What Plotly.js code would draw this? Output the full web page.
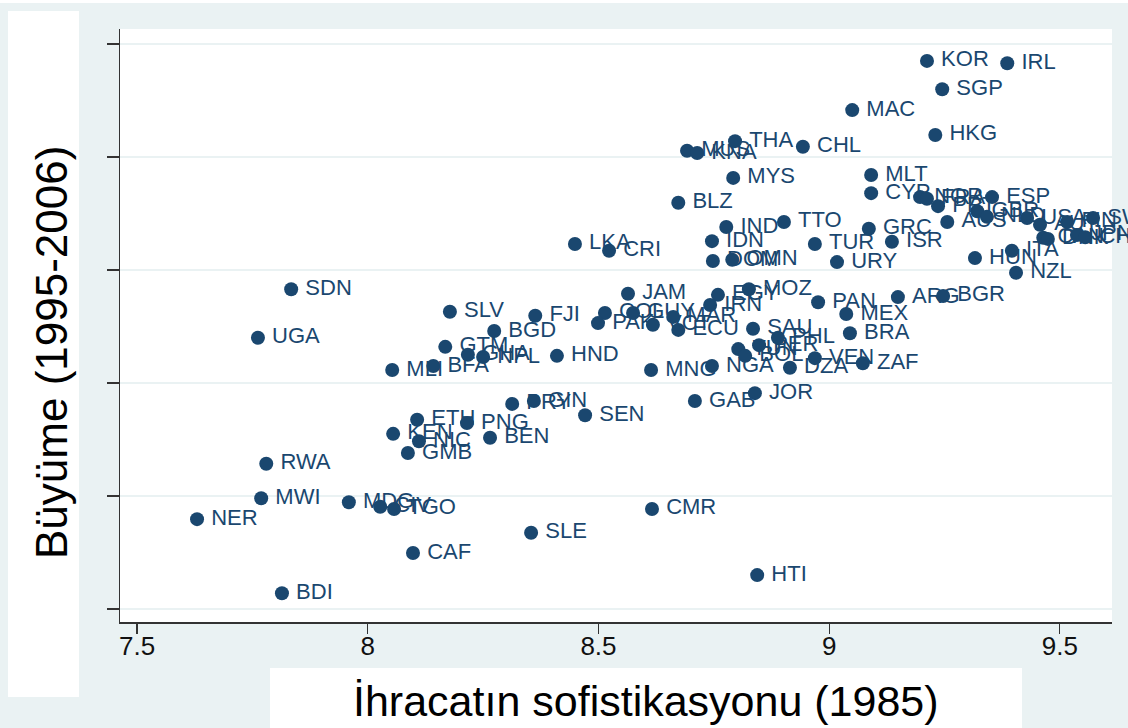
<!DOCTYPE html>
<html>
<head>
<meta charset="utf-8">
<script src="https://cdn.plot.ly/plotly-3.0.1.min.js"></script>
<style>html,body{margin:0;padding:0;background:#EAF2F3;}#chart{width:1128px;height:728px;}</style>
</head>
<body>
<div id="chart"></div>
<script>
// Country codes
const countries = [
 "KOR","IRL","SGP","MAC","HKG","THA","CHL","MUS","KNA","MYS",
 "MLT","CYP","BLZ","NOR","FRA","PRT","ESP","GBR","NLD","AUS",
 "USA","AUT","FIN","SWE","CAN","DNK","JPN","CHE","ITA","HUN",
 "NZL","ISR","GRC","TUR","URY","TTO","IND","IDN","DOM","OMN",
 "LKA","CRI","SDN","UGA","SLV","FJI","BGD","GTM","GHA","NPL",
 "BFA","MLI","HND","JAM","EGY","IRN","MOZ","PAN","ARG","BGR",
 "MEX","COL","GUY","PAK","VCT","MAR","ECU","SAU","PHL","PER",
 "TUN","BOL","BRA","VEN","ZAF","DZA","NGA","MNG","GAB","JOR",
 "PRY","GIN","SEN","ETH","PNG","KEN","NIC","BEN","GMB","RWA",
 "MWI","MDG","CIV","TGO","NER","CMR","SLE","CAF","HTI","BDI"
];
// Export sophistication (1985), log EXPY
const expy = [
 9.212,9.386,9.245,9.050,9.230,8.796,8.943,8.692,8.714,8.792,
 9.091,9.091,8.673,9.197,9.212,9.236,9.353,9.321,9.342,9.256,
 9.429,9.457,9.516,9.572,9.464,9.474,9.537,9.555,9.396,9.316,
 9.405,9.136,9.086,8.969,9.017,8.902,8.777,8.746,8.748,8.790,
 8.449,8.523,7.834,7.762,8.178,8.363,8.274,8.168,8.217,8.250,
 8.142,8.053,8.410,8.564,8.759,8.742,8.826,8.976,9.149,9.247,
 9.037,8.514,8.575,8.499,8.618,8.662,8.673,8.835,8.889,8.848,
 8.803,8.818,9.045,8.969,9.073,8.915,8.746,8.614,8.709,8.839,
 8.313,8.360,8.471,8.107,8.215,8.055,8.111,8.265,8.087,7.780,
 7.769,7.959,8.027,8.057,7.630,8.616,8.354,8.098,8.844,7.814
];
// Growth (1995-2006)
const growth = [
 7.70,7.66,7.20,6.83,6.39,6.28,6.18,6.11,6.07,5.63,
 5.68,5.36,5.19,5.29,5.26,5.13,5.29,5.04,4.94,4.85,
 4.92,4.80,4.85,4.92,4.57,4.55,4.62,4.58,4.34,4.21,
 3.95,4.50,4.73,4.46,4.14,4.85,4.76,4.51,4.16,4.18,
 4.46,4.34,3.66,2.80,3.26,3.19,2.92,2.64,2.50,2.46,
 2.30,2.23,2.48,3.58,3.56,3.38,3.66,3.43,3.52,3.54,
 3.22,3.24,3.24,3.06,3.03,3.17,2.94,2.96,2.80,2.67,
 2.60,2.48,2.88,2.44,2.35,2.27,2.30,2.23,1.68,1.82,
 1.63,1.68,1.43,1.35,1.29,1.10,0.97,1.03,0.76,0.57,
 -0.04,-0.11,-0.19,-0.23,-0.41,-0.23,-0.65,-1.01,-1.40,-1.72
];
const xTickVals = [7.5, 8, 8.5, 9, 9.5];
const xTickText = ["7.5", "8", "8.5", "9", "9.5"];
const yTickVals = [-2, 0, 2, 4, 6, 8];
const xTitle = "İhracatın sofistikasyonu (1985)";
const yTitle = "Büyüme (1995-2006)";

const navy = "#1A476F";
const bg = "#EAF2F3";
const W = 1128, H = 728;
const M = {l: 120, r: 16, t: 29, b: 106};
const pw = W - M.l - M.r, ph = H - M.t - M.b;
const px = x => (x - M.l) / pw;
const py = y => (H - M.b - y) / ph;

const trace = {
  type: "scatter",
  mode: "markers+text",
  x: expy,
  y: growth,
  text: countries,
  texttemplate: "\u2009%{text}",
  textposition: "middle right",
  textfont: {family: "Liberation Sans, Arial, sans-serif", size: 22, color: navy},
  marker: {color: navy, size: 14, line: {width: 0}},
  cliponaxis: false,
  hoverinfo: "text"
};

const layout = {
  width: W, height: H,
  margin: M,
  paper_bgcolor: bg,
  plot_bgcolor: "#FFFFFF",
  showlegend: false,
  font: {family: "Liberation Sans, Arial, sans-serif", color: "#000"},
  xaxis: {
    range: [7.463, 9.613],
    tickvals: xTickVals, ticktext: xTickText,
    ticks: "outside", ticklen: 10, tickwidth: 1.2, tickcolor: "#333",
    ticklabelstandoff: -10,
    showline: true, linecolor: "#333", linewidth: 1.5,
    showgrid: false, zeroline: false,
    tickfont: {size: 26, color: "#111"}
  },
  yaxis: {
    range: [-2.23, 8.265],
    tickvals: yTickVals,
    showticklabels: false,
    ticks: "outside", ticklen: 12, tickwidth: 1.2, tickcolor: "#333",
    showline: true, linecolor: "#333", linewidth: 1.5,
    showgrid: true, gridcolor: bg, gridwidth: 2,
    zeroline: false
  },
  shapes: [
    {type: "rect", xref: "paper", yref: "paper", layer: "below",
     x0: px(8), x1: px(79), y0: py(697), y1: py(11),
     fillcolor: "#FFFFFF", line: {width: 0}},
    {type: "rect", xref: "paper", yref: "paper", layer: "below",
     x0: px(270), x1: px(1022), y0: py(728), y1: py(668),
     fillcolor: "#FFFFFF", line: {width: 0}},
    {type: "rect", xref: "paper", yref: "paper", layer: "below",
     x0: px(0), x1: px(1128), y0: py(3), y1: py(0),
     fillcolor: "#FFFFFF", line: {width: 0}}
  ],
  annotations: [
    {text: yTitle, xref: "paper", yref: "paper", x: px(51), y: py(353),
     xanchor: "center", yanchor: "middle", textangle: -90, showarrow: false,
     font: {size: 44, color: "#000"}},
    {text: xTitle, xref: "paper", yref: "paper", x: px(646), y: py(701),
     xanchor: "center", yanchor: "middle", showarrow: false,
     font: {size: 43, color: "#000"}}
  ]
};

Plotly.newPlot("chart", [trace], layout, {displayModeBar: false, staticPlot: true});
</script>
</body>
</html>
